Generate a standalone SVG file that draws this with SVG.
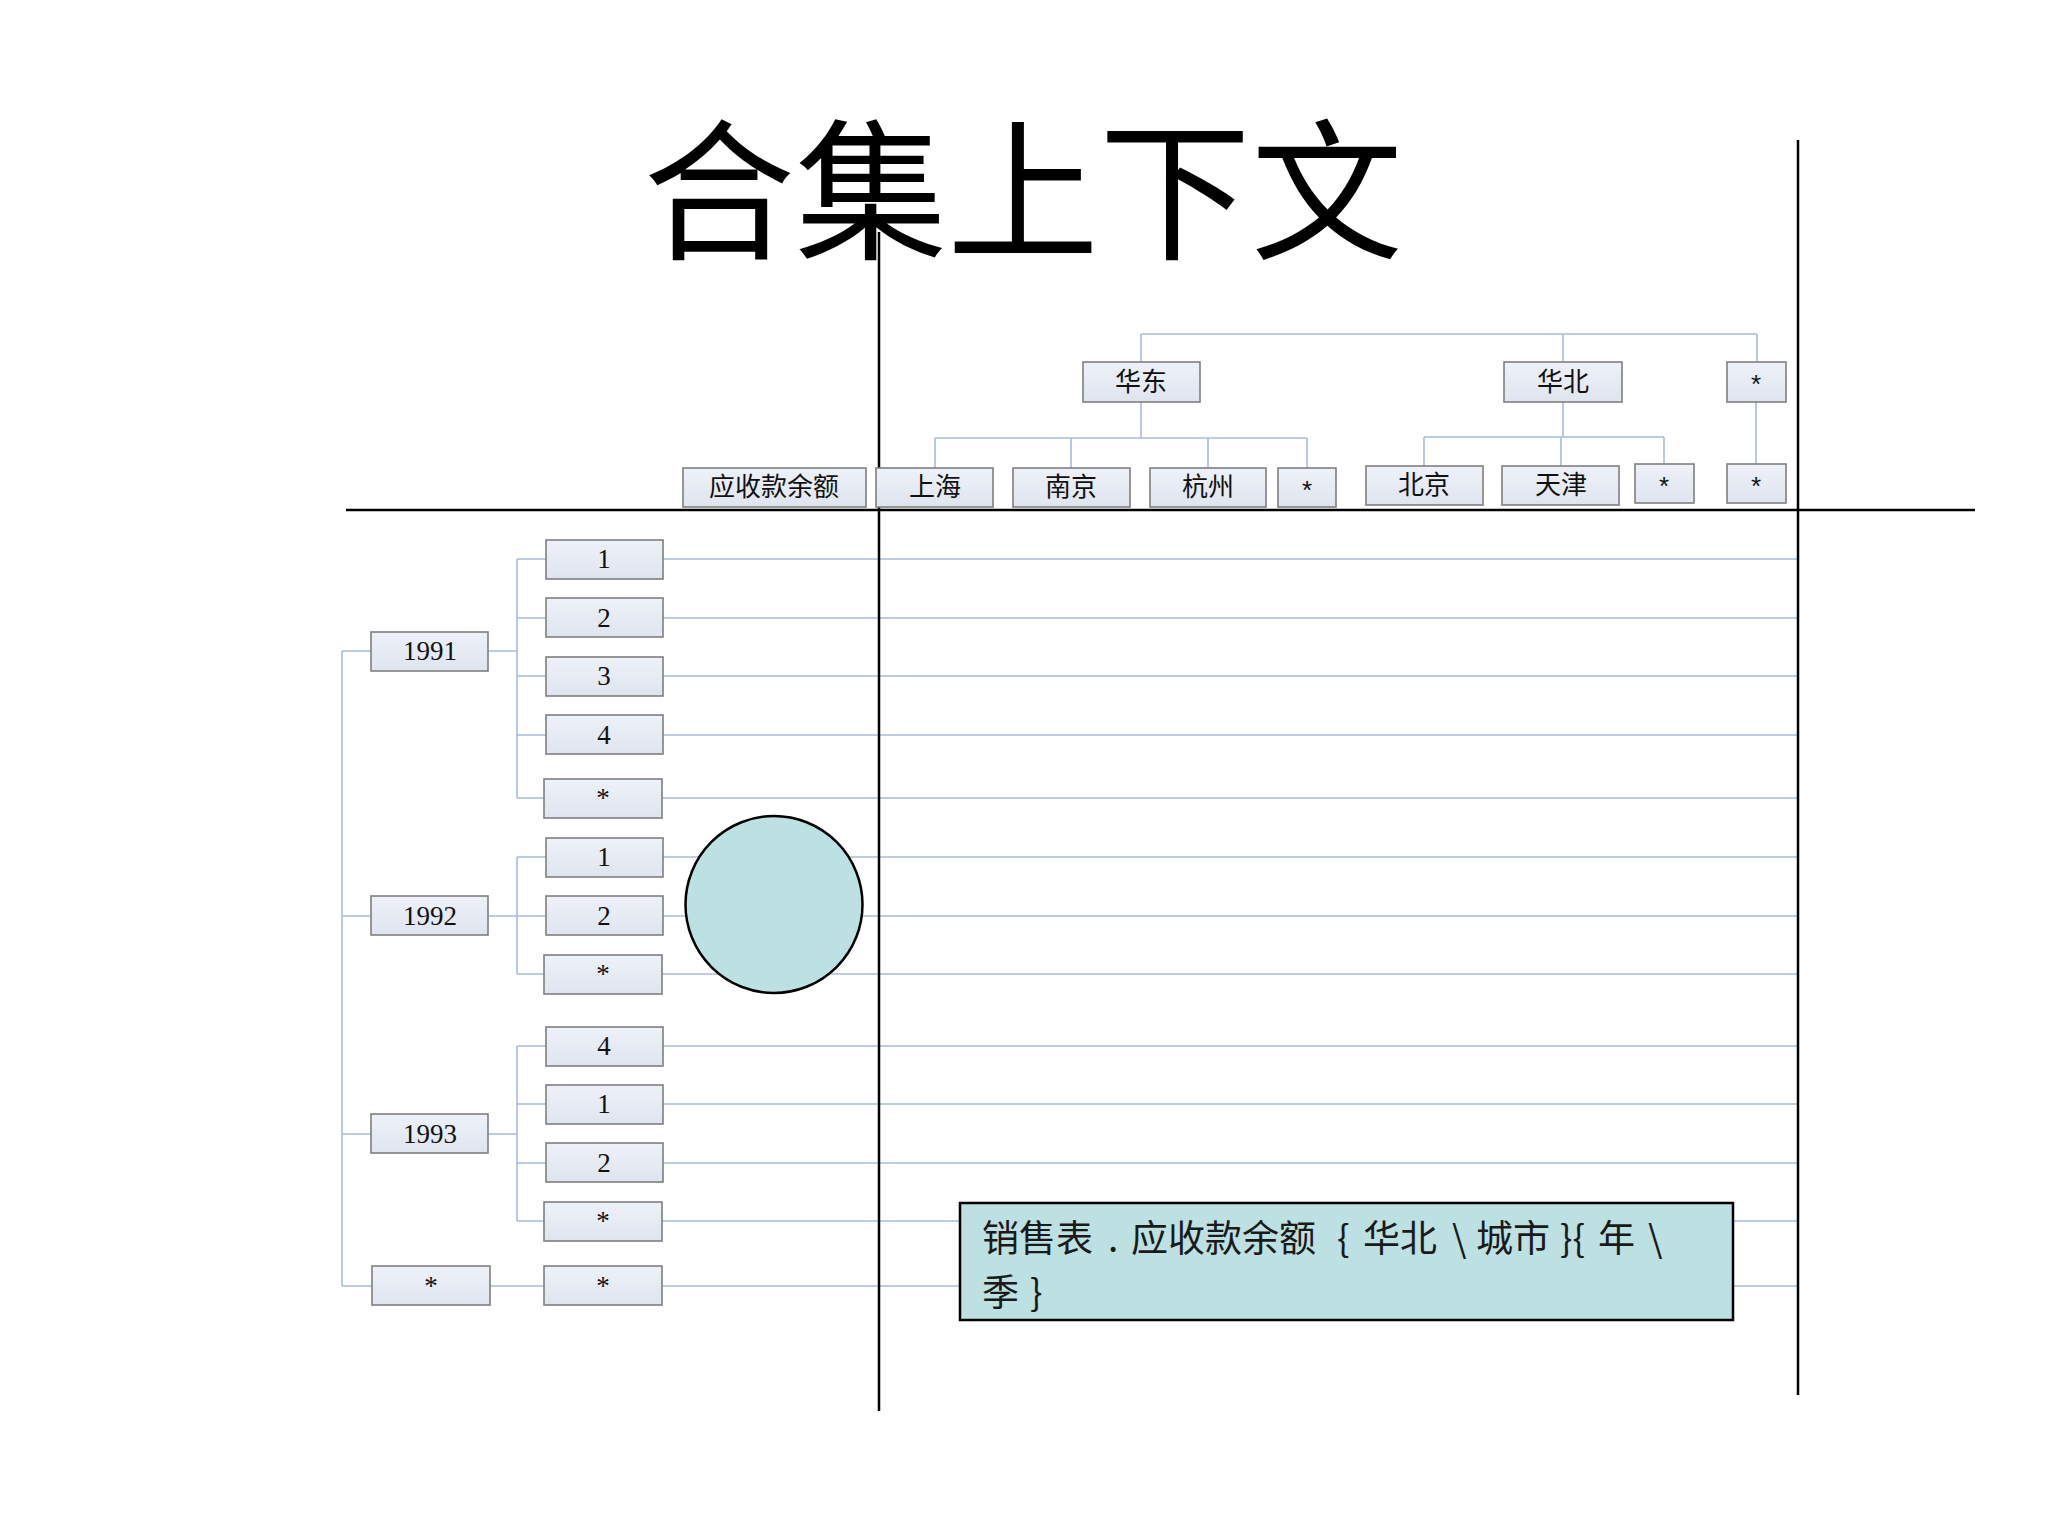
<svg xmlns="http://www.w3.org/2000/svg" width="2048" height="1536" viewBox="0 0 2048 1536">
<defs>
<linearGradient id="boxg" x1="0" y1="0" x2="0" y2="1">
<stop offset="0" stop-color="#eef1f8"/>
<stop offset="1" stop-color="#dfe4ef"/>
</linearGradient>
</defs>
<style>
.box{fill:url(#boxg);stroke:#7f7f7f;stroke-width:1.6}
.t{font-family:"Liberation Serif","Noto Sans CJK SC",serif;font-size:27px;fill:#111;text-anchor:middle}
.c{font-family:"Noto Sans CJK SC","Liberation Sans",sans-serif;font-size:26px;fill:#111;text-anchor:middle}
.s{font-family:"Liberation Sans",sans-serif;font-size:26px;fill:#111;text-anchor:middle}
.conn{stroke:#a9bcd9;stroke-width:1.6;fill:none}
.axis{stroke:#000;stroke-width:2.5;fill:none}
.title{font-family:"Noto Sans CJK SC",serif;font-size:152px;fill:#000;text-anchor:middle}
.f{font-family:"Noto Sans CJK SC","Liberation Sans",sans-serif;font-size:37px;fill:#1a1a1a}
</style>
<rect width="2048" height="1536" fill="#fff"/>
<text class="title" x="1023" y="248">合集上下文</text>

<g id="connectors" class="conn">
<path d="M1141 334 H1757 M1141 334 V363 M1563 334 V363 M1757 334 V363"/>
<path d="M1141 401 V438 M935 438 H1307 M935 438 V468 M1071 438 V468 M1208 438 V468 M1307 438 V468"/>
<path d="M1563 401 V437 M1424 437 H1664 M1424 437 V466 M1561 437 V466 M1664 437 V464"/>
<path d="M1756 401 V464"/>
<path d="M342 651 V1286 M342 651 H371 M342 916 H371 M342 1134 H371 M342 1286 H372"/>
<path d="M488 651 H517 M517 559 V798 M517 559 H546 M517 618 H546 M517 676 H546 M517 735 H546 M517 798 H544"/>
<path d="M488 916 H517 M517 857 V974 M517 857 H546 M517 916 H546 M517 974 H544"/>
<path d="M488 1134 H517 M517 1046 V1221 M517 1046 H546 M517 1104 H546 M517 1163 H546 M517 1221 H544"/>
<path d="M490 1286 H544"/>
<path d="M663 559 H1798 M663 618 H1798 M663 676 H1798 M663 735 H1798 M662 798 H1798 M663 857 H1798 M663 916 H1798 M662 974 H1798 M663 1046 H1798 M663 1104 H1798 M663 1163 H1798 M662 1221 H1798 M662 1286 H1798"/>
</g>

<g id="axes" class="axis">
<line x1="879" y1="232" x2="879" y2="1411"/>
<line x1="1798" y1="140" x2="1798" y2="1395"/>
<line x1="346" y1="510" x2="1975" y2="510"/>
</g>

<g id="n-huadong"><rect class="box" x="1083" y="362" width="117" height="40"/><text class="c" x="1141" y="391">华东</text></g>
<g id="n-huabei"><rect class="box" x="1504" y="362" width="118" height="40"/><text class="c" x="1563" y="391">华北</text></g>
<g id="n-region-all"><rect class="box" x="1727" y="362" width="59" height="40"/><text class="s" x="1756" y="393">*</text></g>

<g id="n-measure"><rect class="box" x="683" y="468" width="183" height="39"/><text class="c" x="774" y="496">应收款余额</text></g>
<g id="n-shanghai"><rect class="box" x="876" y="468" width="117" height="39"/><text class="c" x="935" y="496">上海</text></g>
<g id="n-nanjing"><rect class="box" x="1013" y="468" width="117" height="39"/><text class="c" x="1071" y="496">南京</text></g>
<g id="n-hangzhou"><rect class="box" x="1150" y="468" width="116" height="39"/><text class="c" x="1208" y="496">杭州</text></g>
<g id="n-east-all"><rect class="box" x="1278" y="468" width="58" height="39"/><text class="s" x="1307" y="499">*</text></g>
<g id="n-beijing"><rect class="box" x="1366" y="466" width="117" height="39"/><text class="c" x="1424" y="494">北京</text></g>
<g id="n-tianjin"><rect class="box" x="1502" y="466" width="117" height="39"/><text class="c" x="1561" y="494">天津</text></g>
<g id="n-north-all"><rect class="box" x="1635" y="464" width="59" height="39"/><text class="s" x="1664" y="495">*</text></g>
<g id="n-all-all"><rect class="box" x="1727" y="464" width="59" height="39"/><text class="s" x="1756" y="495">*</text></g>

<g id="n-1991"><rect class="box" x="371" y="632" width="117" height="39"/><text class="t" x="430" y="660">1991</text></g>
<g id="n-1991-1"><rect class="box" x="546" y="540" width="117" height="39"/><text class="t" x="604" y="568">1</text></g>
<g id="n-1991-2"><rect class="box" x="546" y="598" width="117" height="39"/><text class="t" x="604" y="627">2</text></g>
<g id="n-1991-3"><rect class="box" x="546" y="657" width="117" height="39"/><text class="t" x="604" y="685">3</text></g>
<g id="n-1991-4"><rect class="box" x="546" y="715" width="117" height="39"/><text class="t" x="604" y="744">4</text></g>
<g id="n-1991-all"><rect class="box" x="544" y="779" width="118" height="39"/><text class="t" x="603" y="807">*</text></g>

<g id="n-1992"><rect class="box" x="371" y="896" width="117" height="39"/><text class="t" x="430" y="925">1992</text></g>
<g id="n-1992-1"><rect class="box" x="546" y="838" width="117" height="39"/><text class="t" x="604" y="866">1</text></g>
<g id="n-1992-2"><rect class="box" x="546" y="896" width="117" height="39"/><text class="t" x="604" y="925">2</text></g>
<g id="n-1992-all"><rect class="box" x="544" y="955" width="118" height="39"/><text class="t" x="603" y="983">*</text></g>

<g id="n-1993"><rect class="box" x="371" y="1114" width="117" height="39"/><text class="t" x="430" y="1143">1993</text></g>
<g id="n-1993-4"><rect class="box" x="546" y="1027" width="117" height="39"/><text class="t" x="604" y="1055">4</text></g>
<g id="n-1993-1"><rect class="box" x="546" y="1085" width="117" height="39"/><text class="t" x="604" y="1113">1</text></g>
<g id="n-1993-2"><rect class="box" x="546" y="1143" width="117" height="39"/><text class="t" x="604" y="1172">2</text></g>
<g id="n-1993-all"><rect class="box" x="544" y="1202" width="118" height="39"/><text class="t" x="603" y="1230">*</text></g>

<g id="n-year-all"><rect class="box" x="372" y="1266" width="118" height="39"/><text class="t" x="431" y="1295">*</text></g>
<g id="n-year-all-q"><rect class="box" x="544" y="1266" width="118" height="39"/><text class="t" x="603" y="1295">*</text></g>

<g id="n-circle"><circle cx="774" cy="904.5" r="88.5" fill="#bde0e2" stroke="#000" stroke-width="2.5"/></g>

<g id="n-formula">
<rect x="960" y="1203" width="773" height="117" fill="#bde0e2" stroke="#000" stroke-width="2.5"/>
<text class="f" y="1252"><tspan x="982">销售表</tspan><tspan x="1108">.</tspan><tspan x="1131">应收款余额</tspan><tspan x="1337">{</tspan><tspan x="1363">华北</tspan><tspan x="1452">\</tspan><tspan x="1476">城市</tspan><tspan x="1560">}{</tspan><tspan x="1598">年</tspan><tspan x="1648">\</tspan></text>
<text class="f" y="1306"><tspan x="982">季</tspan><tspan x="1030">}</tspan></text>
</g>
</svg>
